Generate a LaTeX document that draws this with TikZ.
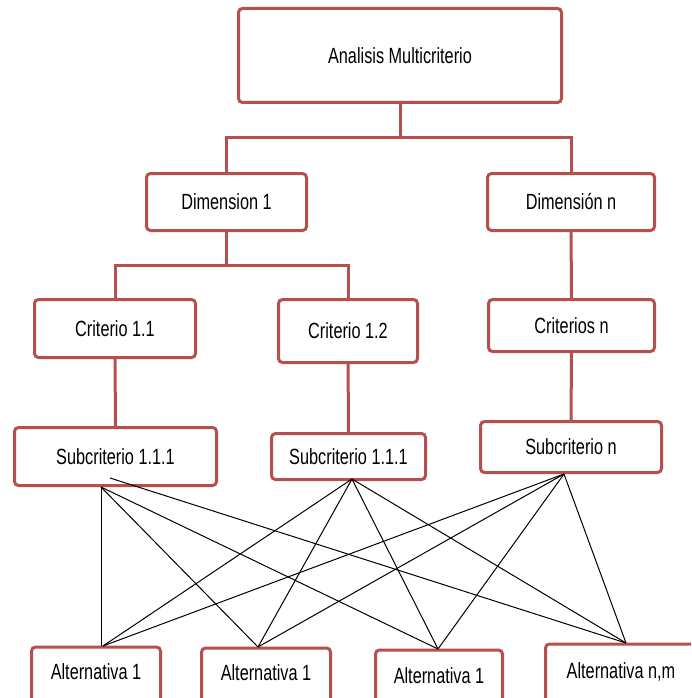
\documentclass[tikz,border=0pt]{standalone}
\usepackage{fontspec}
\setmainfont[FakeStretch=0.74]{Liberation Sans}
\definecolor{boxred}{HTML}{B5504E}
\begin{document}
\begin{tikzpicture}[x=1pt,y=-1pt,
  box/.style={draw=boxred, line width=3pt, rounded corners=4pt, fill=white, inner sep=0pt, font=\fontsize{22}{26}\selectfont, text=black},
  tree/.style={draw=boxred, line width=3pt},
  fan/.style={draw=black, line width=1pt}]
\clip (0,0) rectangle (691,698);
\fill[white] (0,0) rectangle (691,698);
% tree boxes
\node[box, minimum width=323pt, minimum height=94pt] (top) at (400,55.5) {Analisis Multicriterio};
\node[box, minimum width=160pt, minimum height=57pt] (dim1) at (226.5,202) {Dimension 1};
\node[box, minimum width=167pt, minimum height=57pt] (dimn) at (571,202) {Dimensión n};
\node[box, minimum width=161pt, minimum height=58pt] (c11) at (115,328.5) {Criterio 1.1};
\node[box, minimum width=139pt, minimum height=63pt] (c12) at (348,331) {Criterio 1.2};
\node[box, minimum width=166pt, minimum height=52pt] (cn) at (571.5,325.5) {Criterios n};
\node[box, minimum width=202pt, minimum height=58pt] (s1) at (115.5,456.5) {Subcriterio 1.1.1};
\node[box, minimum width=154pt, minimum height=46pt] (s2) at (348.5,456.5) {Subcriterio 1.1.1};
\node[box, minimum width=181pt, minimum height=51pt] (sn) at (571,447) {Subcriterio n};
% alternatives (cut by the lower edge)
\node[box, minimum width=129pt, anchor=base, text height=32pt, text depth=45pt] (a1) at (96,679) {Alternativa 1};
\node[box, minimum width=129pt, anchor=base, text height=32pt, text depth=45pt] (a2) at (266,680) {Alternativa 1};
\node[box, minimum width=127pt, anchor=base, text height=33pt, text depth=45pt] (a3) at (439,683) {Alternativa 1};
\node[box, minimum width=151pt, anchor=base, text height=34pt, text depth=45pt] (a4) at (621,678) {Alternativa n,m};
% tree connectors
\coordinate (j1) at (400,137);
\coordinate (j2) at (226.5,265);
\draw[tree] (top.south) -- (j1);
\draw[tree] (dim1.north) |- (j1) -| (dimn.north);
\draw[tree] (dim1.south) -- (j2);
\draw[tree] (c11.north) |- (j2) -| (c12.north);
\draw[tree] (dimn) -- (cn);
\draw[tree] (c11) -- (s1);
\draw[tree] (c12) -- (s2);
\draw[tree] (cn) -- (sn);
% fan connectors
\coordinate (p1) at (101,487);
\coordinate (p1b) at (110,478);
\coordinate (p2) at (352,479);
\coordinate (p3) at (564,474);
\coordinate (t1) at (103,646);
\coordinate (t2) at (258,647);
\coordinate (t3) at (438,649);
\coordinate (t4) at (626,643);
\draw[fan] (p1) -- (p1 |- t1);
\draw[fan] (p1) -- (t2);
\draw[fan] (p1) -- (t3);
\draw[fan] (p1b) -- (t4);
\foreach \t in {t1,t2,t3,t4} {
  \draw[fan] (p2) -- (\t);
  \draw[fan] (p3) -- (\t);
}
\end{tikzpicture}
\end{document}
